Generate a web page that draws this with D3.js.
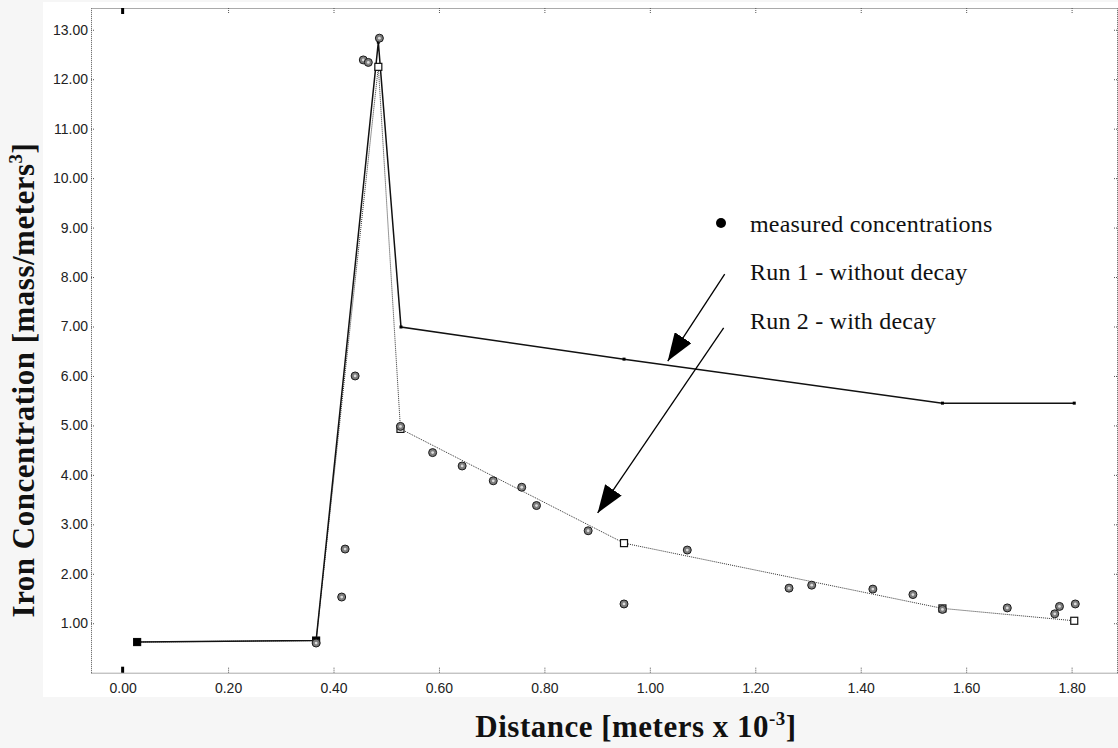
<!DOCTYPE html>
<html>
<head>
<meta charset="utf-8">
<script src="https://cdn.jsdelivr.net/npm/d3@7"></script>
<style>
  body { margin: 0; background: #f6f6f6; }
  svg { display: block; }
</style>
</head>
<body>
<script>
// distance (meters x 10^-3) and concentration values
const measuredX = [0.367, 0.4155, 0.422, 0.441, 0.4565, 0.466, 0.487, 0.527, 0.588, 0.644, 0.703, 0.757, 0.785, 0.883, 0.951, 1.071, 1.264, 1.307, 1.423, 1.499, 1.555, 1.678, 1.768, 1.777, 1.807];
const measuredY = [0.60, 1.53, 2.50, 6.00, 12.39, 12.34, 12.83, 4.98, 4.45, 4.18, 3.88, 3.75, 3.38, 2.87, 1.39, 2.48, 1.71, 1.77, 1.69, 1.58, 1.28, 1.31, 1.19, 1.34, 1.39];

const run1X = [0.0275, 0.367, 0.485, 0.528, 0.951, 1.555, 1.805];
const run1Y = [0.62, 0.65, 12.75, 6.99, 6.34, 5.45, 5.45];

const run2X = [0.0275, 0.367, 0.485, 0.527, 0.951, 1.555, 1.805];
const run2Y = [0.62, 0.65, 12.25, 4.93, 2.62, 1.30, 1.05];

const xTicks = [0, 0.2, 0.4, 0.6, 0.8, 1.0, 1.2, 1.4, 1.6, 1.8];
const yTicks = [1, 2, 3, 4, 5, 6, 7, 8, 9, 10, 11, 12, 13];

const legendLabels = ["measured concentrations", "Run 1 - without decay", "Run 2 - with decay"];

// arrows from the legend to the two runs, in data units [x1, y1, x2, y2]
const arrows = [
  [1.142, 8.06, 1.034, 6.30],
  [1.140, 6.97, 0.901, 3.23]
];

const width = 1118, height = 748;
const plotLeft = 91, plotRight = 1118, plotTop = 8, plotBottom = 672.7;

const svg = d3.select("body").append("svg")
  .attr("width", width)
  .attr("height", height);

// white panel behind the plot
svg.append("rect")
  .attr("x", 43).attr("y", 2)
  .attr("width", width - 43).attr("height", 695)
  .attr("fill", "#fff");

const x = d3.scaleLinear().domain([-0.06, 1.888]).range([plotLeft, plotRight]);
const y = d3.scaleLinear().domain([0, 13.44]).range([plotBottom, plotTop]);

const fmt = d3.format(".2f");
const tickFont = "'Liberation Sans', Arial, sans-serif";

function styleAxis(g) {
  g.select(".domain").attr("stroke", "#555").attr("stroke-dasharray", "1,1");
  g.selectAll(".tick line").attr("stroke", "#555").attr("stroke-dasharray", "1,1");
  g.selectAll(".tick text").attr("fill", "#222")
    .style("font-family", tickFont).style("font-size", "14px");
}

svg.append("g")
  .attr("transform", `translate(${plotLeft},0)`)
  .call(d3.axisLeft(y).tickValues(yTicks).tickFormat(fmt).tickSize(-4).tickSizeOuter(0).tickPadding(3))
  .call(styleAxis);

svg.append("g")
  .attr("transform", `translate(0,${plotBottom})`)
  .call(d3.axisBottom(x).tickValues(xTicks).tickFormat(fmt).tickSize(-5).tickSizeOuter(0).tickPadding(10))
  .call(styleAxis);

svg.append("g")
  .attr("transform", `translate(0,${plotTop})`)
  .call(d3.axisTop(x).tickValues(xTicks).tickFormat("").tickSize(-5).tickSizeOuter(0))
  .call(styleAxis);

svg.append("g")
  .attr("transform", `translate(${plotRight - 1},0)`)
  .call(d3.axisRight(y).tickValues(yTicks).tickFormat("").tickSize(-4).tickSizeOuter(0))
  .call(styleAxis);

// heavy marks at x = 0 on top and bottom
[[plotTop, plotTop + 6], [plotBottom - 6, plotBottom]].forEach(([a, b]) => {
  svg.append("rect")
    .attr("x", x(0) - 1.5).attr("y", a)
    .attr("width", 3).attr("height", b - a)
    .attr("fill", "#000");
});

const run1 = run1X.map((d, i) => [d, run1Y[i]]);
const run2 = run2X.map((d, i) => [d, run2Y[i]]);
const measured = measuredX.map((d, i) => [d, measuredY[i]]);

const line = d3.line().x(d => x(d[0])).y(d => y(d[1]));

svg.append("path")
  .datum(run2)
  .attr("d", line)
  .attr("fill", "none")
  .attr("stroke", "#333")
  .attr("stroke-width", 1)
  .attr("stroke-dasharray", "1,1");

svg.append("path")
  .datum(run1)
  .attr("d", line)
  .attr("fill", "none")
  .attr("stroke", "#111")
  .attr("stroke-width", 1.5);

svg.selectAll("rect.run2")
  .data(run2)
  .enter()
  .append("rect")
  .attr("class", "run2")
  .attr("x", d => x(d[0]) - 3.5)
  .attr("y", d => y(d[1]) - 3.5)
  .attr("width", 7).attr("height", 7)
  .attr("fill", "#fff")
  .attr("stroke", "#111")
  .attr("stroke-width", 1.2);

svg.selectAll("rect.run1")
  .data(run1)
  .enter()
  .append("rect")
  .attr("class", "run1")
  .attr("x", (d, i) => x(d[0]) - (i < 2 ? 3.5 : 1.5))
  .attr("y", (d, i) => y(d[1]) - (i < 2 ? 3.5 : 1.5))
  .attr("width", (d, i) => i < 2 ? 7 : 3)
  .attr("height", (d, i) => i < 2 ? 7 : 3)
  .attr("fill", "#000");

const dots = svg.selectAll("g.measured")
  .data(measured)
  .enter()
  .append("g")
  .attr("class", "measured")
  .attr("transform", d => `translate(${x(d[0])},${y(d[1])})`);
dots.append("circle").attr("r", 4).attr("fill", "#7c7c7c").attr("stroke", "#1a1a1a").attr("stroke-width", 1);
dots.append("circle").attr("r", 1.4).attr("fill", "#dcdcdc");

// arrows
svg.append("defs").append("marker")
  .attr("id", "head")
  .attr("viewBox", "0 0 28 20")
  .attr("refX", 28).attr("refY", 10)
  .attr("markerWidth", 28).attr("markerHeight", 20)
  .attr("markerUnits", "userSpaceOnUse")
  .attr("orient", "auto")
  .append("path")
  .attr("d", "M0,0 L28,10 L0,20 Z")
  .attr("fill", "#000");

svg.selectAll("line.arrow")
  .data(arrows)
  .enter()
  .append("line")
  .attr("class", "arrow")
  .attr("x1", d => x(d[0])).attr("y1", d => y(d[1]))
  .attr("x2", d => x(d[2])).attr("y2", d => y(d[3]))
  .attr("stroke", "#000")
  .attr("stroke-width", 1.3)
  .attr("marker-end", "url(#head)");

// legend
const serif = "'Liberation Serif', 'Times New Roman', serif";
svg.append("circle").attr("cx", 721).attr("cy", 223).attr("r", 5).attr("fill", "#000");
svg.selectAll("text.legend")
  .data(legendLabels)
  .enter()
  .append("text")
  .attr("class", "legend")
  .attr("x", 750)
  .attr("y", (d, i) => 231.5 + i * 48.5)
  .style("font-family", serif)
  .style("font-size", "24px")
  .style("letter-spacing", "0.2px")
  .attr("fill", "#111")
  .text(d => d);

// axis titles
const xt = svg.append("text")
  .attr("x", 636).attr("y", 737)
  .attr("text-anchor", "middle")
  .style("font-family", serif)
  .style("font-size", "31px")
  .style("letter-spacing", "0.5px")
  .style("font-weight", "bold")
  .attr("fill", "#111");
xt.append("tspan").text("Distance [meters x 10");
xt.append("tspan").attr("dy", -12).style("font-size", "19px").text("-3");
xt.append("tspan").attr("dy", 12).text("]");

const yt = svg.append("text")
  .attr("transform", "translate(34,380) rotate(-90)")
  .attr("text-anchor", "middle")
  .style("font-family", serif)
  .style("font-size", "31px")
  .style("letter-spacing", "0.5px")
  .style("font-weight", "bold")
  .attr("fill", "#111");
yt.append("tspan").text("Iron Concentration [mass/meters");
yt.append("tspan").attr("dy", -12).style("font-size", "19px").text("3");
yt.append("tspan").attr("dy", 12).text("]");
</script>
</body>
</html>
